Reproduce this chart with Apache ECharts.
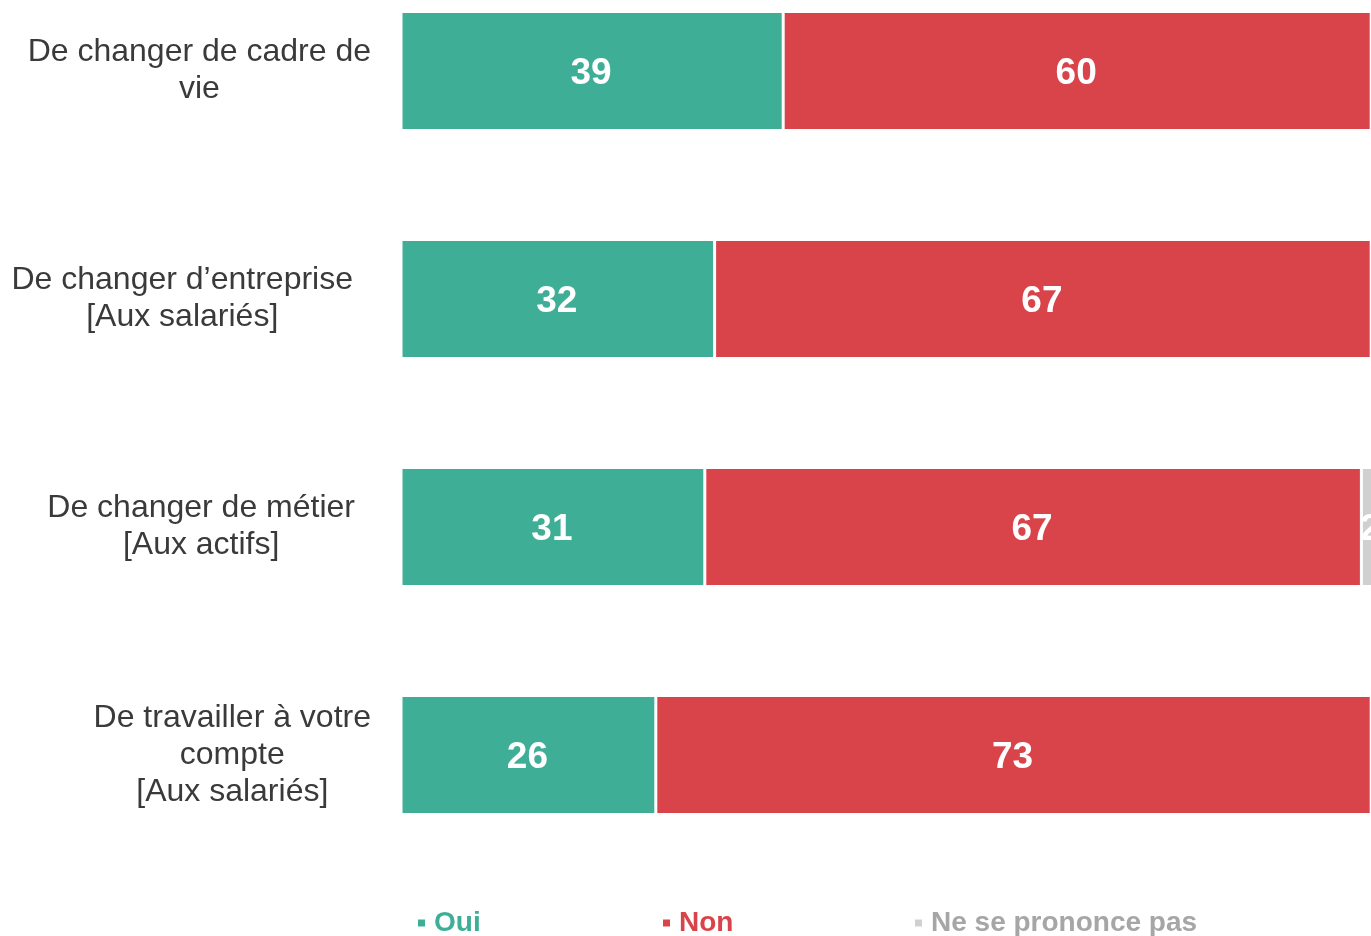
<!DOCTYPE html>
<html>
<head>
<meta charset="utf-8">
<script src="https://cdn.jsdelivr.net/npm/echarts@6/dist/echarts.min.js"></script>
<style>
  html, body { margin: 0; padding: 0; overflow: hidden; background: #fff; }
  #chart { position: absolute; left: 0; top: -43px; width: 1400px; height: 979px; }
</style>
</head>
<body>
<div id="chart"></div>
<script>
// questions (top to bottom)
const categories = [
    'De changer de cadre de\nvie',
    'De changer d\u2019entreprise\n[Aux salariés]',
    'De changer de métier\n[Aux actifs]',
    'De travailler à votre\ncompte\n[Aux salariés]'
];
const oui = [39, 32, 31, 26];
const non = [60, 67, 67, 73];
const nsp = [1, 1, 2, 1];

const seriesNames = ['Oui', 'Non', 'Ne se prononce pas'];
const barColors = ['#3fae96', '#d8444a', '#d0d0d0'];
const legendColors = ['#3fae96', '#d8444a', '#a6a6a6'];
// shift of each label block to the left (px)
const labelShift = [0, 18, 16, 0];
const legendLeft = [416, 661, 913];

const myChart = echarts.init(document.getElementById('chart'));

function makeSeries(name, values, color) {
    return {
        name: name,
        type: 'bar',
        stack: 'total',
        data: values,
        barWidth: 119,
        itemStyle: {
            color: color,
            borderColor: '#fff',
            borderWidth: 1.5
        },
        label: {
            show: true,
            position: 'inside',
            offset: [-1, 3],
            color: '#fff',
            fontFamily: 'Liberation Sans',
            fontWeight: 'bold',
            fontSize: 37,
            // the 1s sit past the right edge of the picture
            formatter: p => (p.value >= 2 ? p.value : '')
        }
    };
}

let option = {
    animation: false,
    grid: {
        left: 401,
        top: 0,
        width: 980,
        height: 912
    },
    legend: seriesNames.map((n, i) => ({
        left: legendLeft[i],
        top: 952,
        padding: 0,
        itemWidth: 9,
        itemHeight: 9,
        icon: 'rect',
        data: [n],
        textStyle: {
            color: legendColors[i],
            fontFamily: 'Liberation Sans',
            fontWeight: 'bold',
            fontSize: 28,
            padding: [0, 0, 0, 3]
        }
    })),
    xAxis: {
        type: 'value',
        min: 0,
        max: 100,
        show: false
    },
    yAxis: {
        type: 'category',
        inverse: true,
        data: categories.map((c, i) => ({
            value: c,
            textStyle: { padding: [0, labelShift[i], 0, 0] }
        })),
        axisLine: { show: false },
        axisTick: { show: false },
        axisLabel: {
            margin: 30,
            align: 'right',
            formatter: v => v.split('\n').map(s => '{c|' + s + '}').join('\n'),
            rich: {
                c: {
                    align: 'center',
                    color: '#3a3a3a',
                    fontFamily: 'Liberation Sans',
                    fontSize: 32,
                    lineHeight: 37
                }
            }
        }
    },
    series: [
        makeSeries(seriesNames[0], oui, barColors[0]),
        makeSeries(seriesNames[1], non, barColors[1]),
        makeSeries(seriesNames[2], nsp, barColors[2])
    ]
};

myChart.setOption(option);
</script>
</body>
</html>
